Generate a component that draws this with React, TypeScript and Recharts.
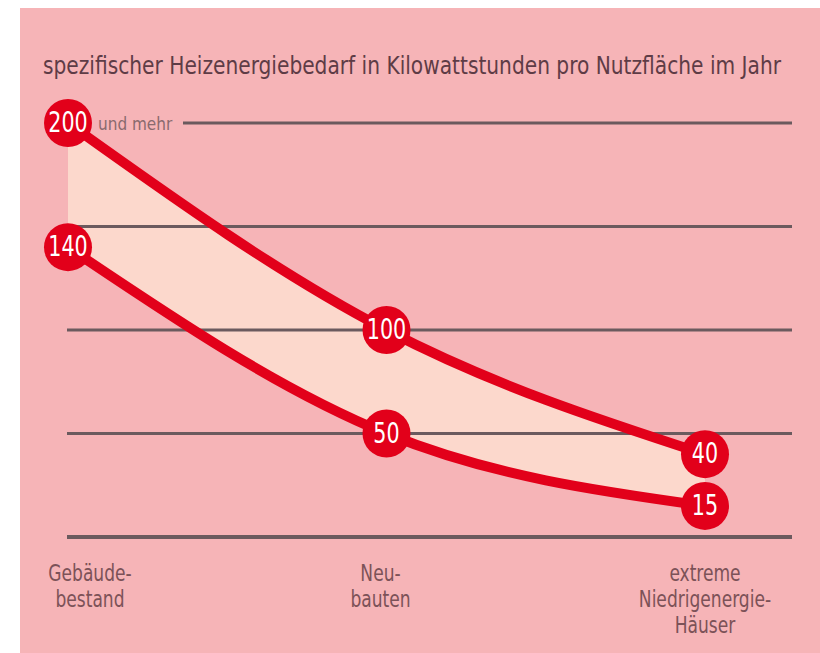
import { ComposedChart, Area, Line, XAxis, YAxis, ReferenceLine } from 'recharts';

const CATEGORIES = ['Gebäudebestand', 'Neubauten', 'extreme Niedrigenergie-Häuser'];
const CATEGORY_LINES = [
  ['Gebäude-', 'bestand'],
  ['Neu-', 'bauten'],
  ['extreme', 'Niedrigenergie-', 'Häuser'],
];
const UPPER = [200, 100, 40];
const LOWER = [140, 50, 15];
const GRID_VALUES = [50, 100, 150];
const TITLE = 'spezifischer Heizenergiebedarf in Kilowattstunden pro Nutzfläche im Jahr';
const TOP_LABEL = 'und mehr';

const RED = '#e2001a';
const GRID = '#6b5a5e';
const TEXT = '#7c5258';
const NARROW = '"DejaVu Sans Condensed", "Liberation Sans", sans-serif';

// horizontal nudge of the category labels relative to the tick
const LABEL_DX = [22, -6, 0];

const data = CATEGORIES.map((name, i) => ({
  name,
  upper: UPPER[i],
  lower: LOWER[i],
  band: [LOWER[i], UPPER[i]],
}));

function ValueDot(props: any) {
  const { cx, cy, value, index, dataKey } = props;
  if (cx == null || cy == null) return null;
  return (
    <g key={`${dataKey}-${index}`}>
      <circle cx={cx} cy={cy} r={24} fill={RED} />
      <text
        transform={`translate(${cx},${cy + 9}) scale(1,1.2)`}
        textAnchor="middle"
        fill="#fff"
        fontSize={23}
        fontFamily={NARROW}
      >
        {value}
      </text>
    </g>
  );
}

function CategoryTick(props: any) {
  const { x, y, index } = props;
  const lines = CATEGORY_LINES[index] || [];
  return (
    <g>
      {lines.map((l, i) => (
        <text
          key={l}
          transform={`translate(${x + LABEL_DX[index]},${y + 36 + i * 26}) scale(1,1.2)`}
          textAnchor="middle"
          fill={TEXT}
          fontSize={19}
          fontFamily={NARROW}
        >
          {l}
        </text>
      ))}
    </g>
  );
}

function TopLine(props: any) {
  const { x1, x2, y1 } = props;
  return (
    <g>
      <text x={x1 + 31} y={y1 + 7} fill="#8a6a6e" fontSize={17} fontFamily={NARROW}>
        {TOP_LABEL}
      </text>
      <line x1={x1 + 116} x2={x2} y1={y1} y2={y1} stroke={GRID} strokeWidth={3} />
    </g>
  );
}

export default function App() {
  return (
    <div style={{ position: 'absolute', left: 0, top: 0, width: 820, height: 653, background: '#fff' }}>
      <div
        style={{ position: 'absolute', left: 20, top: 8, width: 800, height: 645, background: '#f6b4b7' }}
      />
      <svg width={820} height={100} style={{ position: 'absolute', left: 0, top: 0 }}>
        <text
          transform="translate(43,74) scale(1,1.2)"
          fill="#5e3c46"
          fontSize={20}
          fontFamily={NARROW}
          textLength={738}
          lengthAdjust="spacingAndGlyphs"
        >
          {TITLE}
        </text>
      </svg>
      <div style={{ position: 'absolute', left: 0, top: 0 }}>
        <ComposedChart
          width={820}
          height={653}
          data={data}
          margin={{ top: 123, right: 28, bottom: 86, left: 67 }}
        >
          <XAxis
            dataKey="name"
            axisLine={false}
            tickLine={false}
            interval={0}
            height={30}
            padding={{ left: 1, right: 87 }}
            tick={<CategoryTick />}
          />
          <YAxis type="number" domain={[0, 200]} hide />
          <Area
            dataKey="band"
            type="monotone"
            fill="#fcd8cc"
            fillOpacity={1}
            stroke="none"
            isAnimationActive={false}
          />
          {GRID_VALUES.map((v) => (
            <ReferenceLine key={v} y={v} stroke={GRID} strokeWidth={3} />
          ))}
          <ReferenceLine y={0} stroke={GRID} strokeWidth={4} />
          <ReferenceLine y={200} shape={<TopLine />} />
          <Line
            dataKey="upper"
            type="monotone"
            stroke={RED}
            strokeWidth={10}
            dot={ValueDot}
            activeDot={false}
            isAnimationActive={false}
          />
          <Line
            dataKey="lower"
            type="monotone"
            stroke={RED}
            strokeWidth={10}
            dot={ValueDot}
            activeDot={false}
            isAnimationActive={false}
          />
        </ComposedChart>
      </div>
    </div>
  );
}
